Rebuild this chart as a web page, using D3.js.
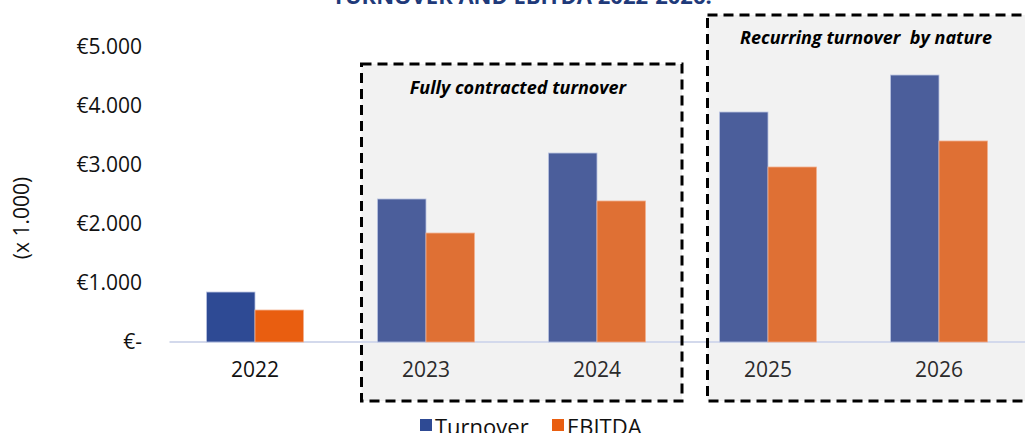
<!DOCTYPE html>
<html>
<head>
<meta charset="utf-8">
<script src="https://cdn.jsdelivr.net/npm/d3@7"></script>
<style>
  html, body { margin: 0; padding: 0; background: #ffffff; overflow: hidden; }
  svg { display: block; font-family: "Open Sans", "Liberation Sans", sans-serif; }
</style>
</head>
<body>
<svg id="chart" width="1025" height="433"></svg>
<script>
// ---- data ----
const years = ["2022", "2023", "2024", "2025", "2026"];
const turnover = [847, 2424, 3203, 3898, 4525];
const ebitda = [542, 1847, 2390, 2966, 3407];
const seriesNames = ["Turnover", "EBITDA"];
const yTicks = [0, 1000, 2000, 3000, 4000, 5000];
const yTickLabels = ["€-", "€1.000", "€2.000", "€3.000", "€4.000", "€5.000"];
const titleText = "TURNOVER AND EBITDA 2022-2026:";
const yAxisTitle = "(x 1.000)";
const groups = [
  { label: "Fully contracted turnover", from: "2023", to: "2024" },
  { label: "Recurring turnover  by nature", from: "2025", to: "2026" }
];

// ---- layout ----
const svg = d3.select("#chart");
const colors = { Turnover: "#2E4A94", EBITDA: "#E95E10" };
const mutedColors = { Turnover: "#4B5E9B", EBITDA: "#DF7034" };

const x = d3.scaleBand().domain(years).range([169.5, 1024.5]).paddingInner(0).paddingOuter(0);
const inner = d3.scaleBand().domain(seriesNames).range([0, x.bandwidth()]).paddingInner(0).paddingOuter(0.763);
const y = d3.scaleLinear().domain([0, 5000]).range([342, 47]);

const inGroup = yr => groups.some(g => years.indexOf(yr) >= years.indexOf(g.from) && years.indexOf(yr) <= years.indexOf(g.to));

// group boxes (background)
const boxGeom = [
  { x0: x("2023") + 21, x1: x("2024") + x.bandwidth() - 0.5, y0: 64, ty: 94, tx: 518 },
  { x0: x("2025") + 25, x1: 1032, y0: 15, ty: 44, tx: 866 }
];
groups.forEach((g, i) => {
  const b = boxGeom[i];
  svg.append("rect")
    .attr("x", b.x0).attr("y", b.y0)
    .attr("width", b.x1 - b.x0).attr("height", 401 - b.y0)
    .attr("fill", "#F2F2F2");
});

// title (cut off at top)
svg.append("text")
  .attr("x", 522).attr("y", 4)
  .attr("text-anchor", "middle")
  .attr("font-size", 22).attr("font-weight", 700)
  .attr("fill", "#1F3A7A")
  .text(titleText);

// baseline axis
svg.append("line")
  .attr("x1", 169.5).attr("x2", 1025)
  .attr("y1", y(0)).attr("y2", y(0))
  .attr("stroke", "#D3D9EC").attr("stroke-width", 2);

// bars
const data = years.map((yr, i) => ({ year: yr, values: [
  { name: "Turnover", value: turnover[i] },
  { name: "EBITDA", value: ebitda[i] }
]}));

const grp = svg.append("g").selectAll("g").data(data).join("g")
  .attr("transform", d => `translate(${x(d.year)},0)`);
grp.selectAll("rect").data(d => d.values.map(v => ({ ...v, year: d.year }))).join("rect")
  .attr("x", d => inner(d.name))
  .attr("width", inner.bandwidth())
  .attr("y", d => y(d.value))
  .attr("height", d => y(0) - y(d.value))
  .attr("fill", d => inGroup(d.year) ? mutedColors[d.name] : colors[d.name])
  .attr("stroke", d => d.name === "Turnover" ? "#B9C3E0" : "#F2B08E")
  .attr("stroke-width", 0.8);

// y axis labels
const yAxis = d3.axisLeft(y).tickValues(yTicks).tickFormat((d, i) => yTickLabels[i]).tickSize(0).tickPadding(0);
const yg = svg.append("g").attr("transform", "translate(142,0)").call(yAxis);
yg.select(".domain").remove();
yg.selectAll("text").attr("font-size", 21).attr("fill", "#111").attr("font-family", "'Open Sans', sans-serif");

// x axis labels
const xAxis = d3.axisBottom(x).tickSize(0).tickPadding(0);
const xg = svg.append("g").attr("transform", "translate(0,362)").call(xAxis);
xg.select(".domain").remove();
xg.selectAll("text").attr("font-size", 21)
  .attr("fill", d => inGroup(d) ? "#2B2B2B" : "#111")
  .attr("font-family", "'Open Sans', sans-serif");

// y axis title
svg.append("text")
  .attr("transform", "translate(29,218) rotate(-90)")
  .attr("text-anchor", "middle")
  .attr("font-size", 21).attr("fill", "#111")
  .text(yAxisTitle);

// group box borders & labels
groups.forEach((g, i) => {
  const b = boxGeom[i];
  svg.append("rect")
    .attr("x", b.x0).attr("y", b.y0)
    .attr("width", b.x1 - b.x0).attr("height", 401 - b.y0)
    .attr("fill", "none").attr("stroke", "#000")
    .attr("stroke-width", 3).attr("stroke-dasharray", "10,6");
  svg.append("text")
    .attr("x", b.tx)
    .attr("y", b.ty)
    .attr("text-anchor", "middle")
    .attr("font-size", 18).attr("font-weight", 700).attr("font-style", "italic")
    .attr("fill", "#000")
    .attr("xml:space", "preserve")
    .text(g.label);
});

// legend
const legend = svg.append("g").attr("transform", "translate(0,427)");
const legX = [420, 552];
seriesNames.forEach((n, i) => {
  legend.append("rect").attr("x", legX[i]).attr("y", -8).attr("width", 12).attr("height", 12).attr("fill", colors[n]);
  legend.append("text").attr("x", legX[i] + 15).attr("y", 8)
    .attr("font-size", 22).attr("fill", "#111").text(n);
});
</script>
</body>
</html>
